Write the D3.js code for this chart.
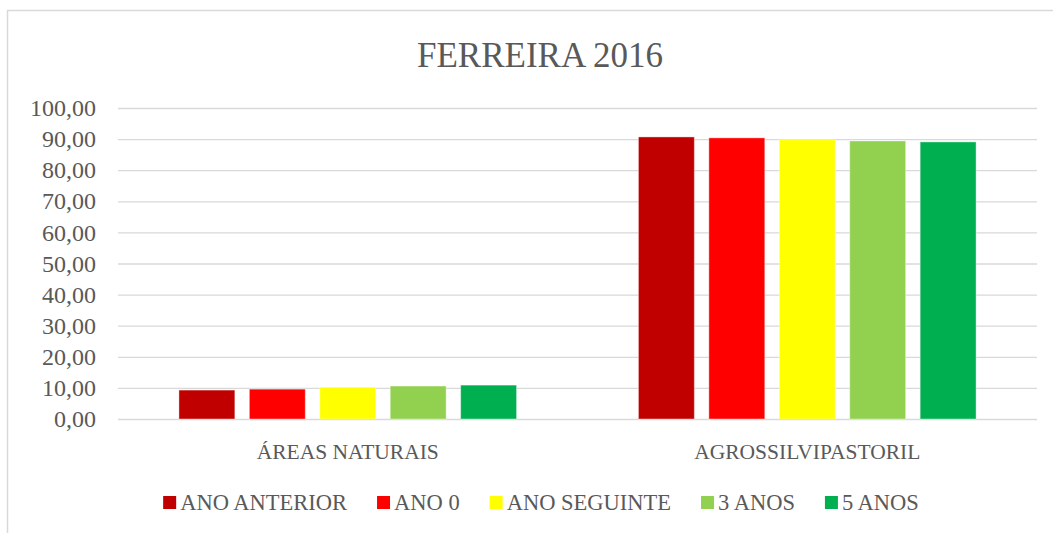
<!DOCTYPE html>
<html>
<head>
<meta charset="utf-8">
<script src="https://cdn.jsdelivr.net/npm/d3@7"></script>
<style>
    body { margin: 0; background: #fff; }
    svg { display: block; }
    text { font-family: "Liberation Serif", "DejaVu Serif", serif; fill: #595959; }
</style>
</head>
<body>
<svg width="1053" height="533"></svg>
<script>
// Chart data
var categories = ["ÁREAS NATURAIS", "AGROSSILVIPASTORIL"];
var seriesNames = ["ANO ANTERIOR", "ANO 0", "ANO SEGUINTE", "3 ANOS", "5 ANOS"];
var seriesColors = ["#C00000", "#FF0000", "#FFFF00", "#92D050", "#00B050"];
var anoAnterior = [9.3, 90.7];
var ano0 = [9.6, 90.4];
var anoSeguinte = [10.2, 89.8];
var tresAnos = [10.6, 89.4];
var cincoAnos = [10.9, 89.1];
var yTicks = [0, 10, 20, 30, 40, 50, 60, 70, 80, 90, 100];

var seriesValues = [anoAnterior, ano0, anoSeguinte, tresAnos, cincoAnos];

var svg = d3.select("svg");

// Plot area
var plot = {left: 118, right: 1037, top: 108, bottom: 419};

// Outer chart border
svg.append("rect")
    .attr("x", 7.5)
    .attr("y", 10.5)
    .attr("width", 1100)
    .attr("height", 600)
    .attr("fill", "none")
    .attr("stroke", "#D9D9D9")
    .attr("stroke-width", 1.5);

// Title
svg.append("text")
    .attr("x", 540)
    .attr("y", 67)
    .attr("text-anchor", "middle")
    .style("font-size", "35px")
    .text("FERREIRA 2016");

// Scales
var x0 = d3.scaleBand()
    .domain(categories)
    .range([plot.left, plot.right])
    .paddingInner(0)
    .paddingOuter(0);

var x1 = d3.scaleBand()
    .domain(d3.range(seriesNames.length))
    .range([0, x0.bandwidth()])
    .paddingInner(0.206)
    .paddingOuter(0.865);

var y = d3.scaleLinear()
    .domain([0, 100])
    .range([plot.bottom, plot.top]);

// Gridlines
svg.append("g")
    .selectAll("line")
    .data(yTicks)
    .enter().append("line")
    .attr("x1", plot.left)
    .attr("x2", plot.right)
    .attr("y1", function(d) { return y(d) + 0.5; })
    .attr("y2", function(d) { return y(d) + 0.5; })
    .attr("stroke", "#D9D9D9")
    .attr("stroke-width", 1.3);

// Y axis labels
var fmt = function(d) { return d3.format(".2f")(d).replace(".", ","); };
var yAxis = d3.axisLeft(y)
    .tickValues(yTicks)
    .tickFormat(fmt)
    .tickSize(0)
    .tickPadding(22);

var yG = svg.append("g")
    .attr("transform", "translate(" + plot.left + ",0)")
    .call(yAxis)
    .attr("font-family", "Liberation Serif")
    .attr("font-size", 24);
yG.select(".domain").remove();
yG.selectAll("text")
    .attr("fill", "#595959");

// Bars
var groups = svg.append("g")
    .selectAll("g")
    .data(categories)
    .enter().append("g")
    .attr("transform", function(d) { return "translate(" + x0(d) + ",0)"; });

groups.selectAll("rect")
    .data(function(d, ci) {
        return seriesValues.map(function(vals, si) { return {si: si, v: vals[ci]}; });
    })
    .enter().append("rect")
    .attr("x", function(d) { return x1(d.si); })
    .attr("y", function(d) { return y(d.v); })
    .attr("width", x1.bandwidth())
    .attr("height", function(d) { return y(0) - y(d.v); })
    .attr("fill", function(d) { return seriesColors[d.si]; })
    .attr("stroke", "#fff")
    .attr("stroke-opacity", 0.4)
    .attr("stroke-width", 1);

// Category labels
svg.append("g")
    .selectAll("text")
    .data(categories)
    .enter().append("text")
    .attr("x", function(d) { return x0(d) + x0.bandwidth() / 2; })
    .attr("y", 459)
    .attr("text-anchor", "middle")
    .style("font-size", "21.5px")
    .text(function(d) { return d; });

// Legend
var legend = svg.append("g");
var lx = 0;
seriesNames.forEach(function(name, i) {
    var item = legend.append("g").attr("transform", "translate(" + lx + ",0)");
    item.append("rect")
        .attr("x", 0)
        .attr("y", 496)
        .attr("width", 13)
        .attr("height", 13)
        .attr("fill", seriesColors[i]);
    var t = item.append("text")
        .attr("x", 17)
        .attr("y", 510)
        .style("font-size", "22.5px")
        .text(name);
    lx += 17 + t.node().getComputedTextLength() + 30;
});
var legendWidth = lx - 30;
legend.attr("transform", "translate(" + (541 - legendWidth / 2) + ",0)");
</script>
</body>
</html>
